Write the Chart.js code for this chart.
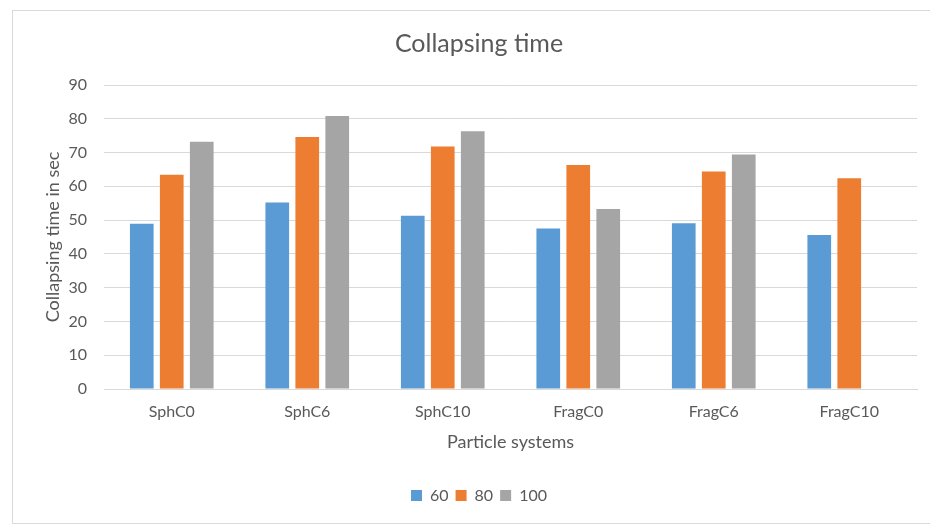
<!DOCTYPE html>
<html>
<head>
<meta charset="utf-8">
<script src="https://cdn.jsdelivr.net/npm/chart.js@4.4.1/dist/chart.umd.min.js"></script>
<style>
    html, body { margin: 0; padding: 0; background: #ffffff; }
    #wrap { width: 930px; height: 525px; }
</style>
</head>
<body>
<div id="wrap"><canvas id="chart"></canvas></div>
<script>
const categories = ['SphC0', 'SphC6', 'SphC10', 'FragC0', 'FragC6', 'FragC10'];
const series60 = [48.9, 55.2, 51.3, 47.5, 49.1, 45.6];
const series80 = [63.4, 74.6, 71.8, 66.3, 64.4, 62.4];
const series100 = [73.2, 80.8, 76.3, 53.3, 69.4, null];
const yTicks = [0, 10, 20, 30, 40, 50, 60, 70, 80, 90];

const textColor = '#595959';
const gridColor = '#d9d9d9';
const fontFamily = 'Lato, "Open Sans", sans-serif';

// outer frame of the chart object, like the office export
const framePlugin = {
    id: 'frame',
    beforeDraw(chart) {
        const ctx = chart.ctx;
        ctx.save();
        ctx.fillStyle = '#ffffff';
        ctx.fillRect(0, 0, chart.width, chart.height);
        ctx.strokeStyle = gridColor;
        ctx.lineWidth = 1;
        ctx.strokeRect(12.5, 10.5, 1000, 513);
        ctx.restore();
    }
};

function makeDataset(label, data, color) {
    return {
        label: label,
        data: data,
        backgroundColor: color,
        borderWidth: 0,
        barPercentage: 0.79,
        categoryPercentage: 0.664,
    };
}

const config = {
    type: 'bar',
    data: {
        labels: categories,
        datasets: [
            makeDataset('60', series60, '#5B9BD5'),
            makeDataset('80', series80, '#ED7D31'),
            makeDataset('100', series100, '#A5A5A5'),
        ]
    },
    options: {
        responsive: false,
        animation: false,
        devicePixelRatio: 1,
        layout: { padding: { left: 41, right: 13, top: 0, bottom: 11.5 } },
        plugins: {
            title: {
                display: true,
                text: 'Collapsing time',
                color: textColor,
                font: { family: fontFamily, size: 25, weight: 'normal' },
                padding: { top: 29, bottom: 26 },
            },
            legend: {
                position: 'bottom',
                labels: {
                    color: textColor,
                    font: { family: fontFamily, size: 16 },
                    boxWidth: 11,
                    boxHeight: 11,
                    padding: 7,
                },
            },
            tooltip: { enabled: false },
        },
        scales: {
            x: {
                grid: { display: false, drawTicks: false },
                border: { display: true, color: gridColor },
                ticks: {
                    color: textColor,
                    font: { family: fontFamily, size: 16 },
                    padding: 13,
                },
                title: {
                    display: true,
                    text: 'Particle systems',
                    color: textColor,
                    font: { family: fontFamily, size: 18 },
                    padding: { top: 0, bottom: 27.5 },
                },
                afterFit(scale) { scale.height = 91.5; },
            },
            y: {
                min: 0,
                max: 90,
                grid: { color: gridColor, drawTicks: false },
                border: { display: false },
                afterBuildTicks(scale) {
                    scale.ticks = yTicks.map(v => ({ value: v }));
                },
                ticks: {
                    color: textColor,
                    font: { family: fontFamily, size: 16 },
                    padding: 17,
                },
                title: {
                    display: true,
                    text: 'Collapsing time in sec',
                    color: textColor,
                    font: { family: fontFamily, size: 18 },
                    padding: { top: 1, bottom: 0 },
                },
                afterFit(scale) { scale.width = 63; },
            },
        },
    },
    plugins: [framePlugin],
};

const canvas = document.getElementById('chart');
canvas.width = 930;
canvas.height = 525;
new Chart(canvas, config);
</script>
</body>
</html>
